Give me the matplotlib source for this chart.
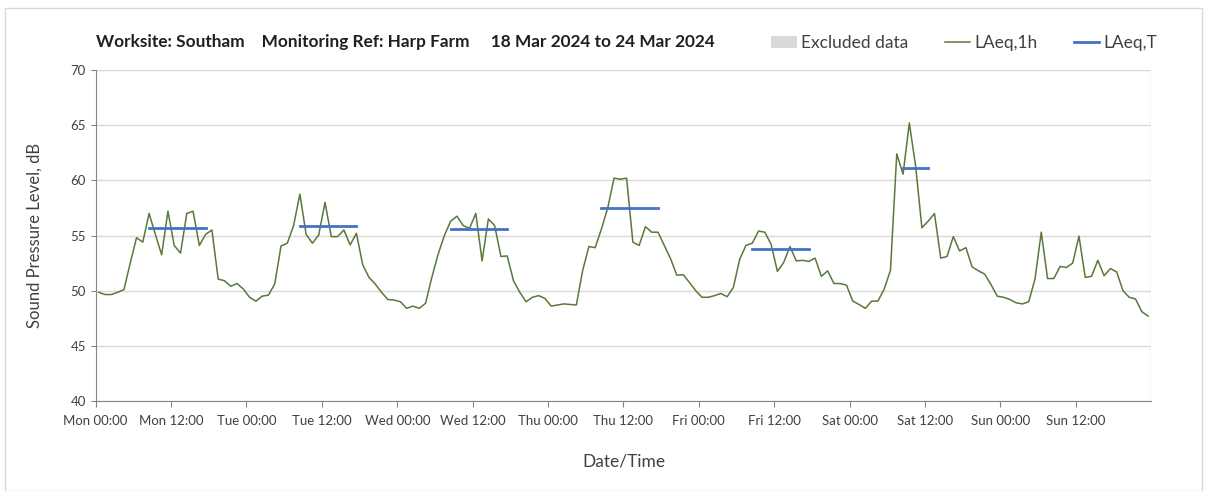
import matplotlib.pyplot as plt
import numpy as np
from matplotlib.patches import Patch, Rectangle
from matplotlib.lines import Line2D

plt.rcParams["font.family"] = ["Lato", "DejaVu Sans"]

# hourly LAeq,1h per day, Mon..Sun (dB)
mon = [49.85, 49.65, 49.65, 49.85, 50.1, 52.5, 54.8, 54.4, 57.0, 55.1, 53.25, 57.2,
       54.1, 53.4, 57.0, 57.2, 54.1, 55.1, 55.5, 51.05, 50.9, 50.4, 50.65, 50.15]
tue = [49.4, 49.05, 49.5, 49.6, 50.6, 54.05, 54.3, 55.9, 58.75, 55.1, 54.3, 55.05,
       58.0, 54.9, 54.9, 55.5, 54.15, 55.2, 52.35, 51.2, 50.6, 49.85, 49.2, 49.15]
wed = [49.0, 48.4, 48.6, 48.4, 48.85, 51.2, 53.3, 55.0, 56.3, 56.75, 55.9, 55.65,
       57.0, 52.7, 56.5, 55.9, 53.1, 53.15, 50.9, 49.85, 49.0, 49.4, 49.55, 49.3]
thu = [48.6, 48.7, 48.8, 48.75, 48.7, 51.8, 54.0, 53.9, 55.6, 57.5, 60.2, 60.1,
       60.2, 54.4, 54.1, 55.8, 55.3, 55.3, 54.1, 52.9, 51.4, 51.45, 50.75, 50.0]
fri = [49.4, 49.4, 49.55, 49.75, 49.45, 50.3, 52.85, 54.1, 54.3, 55.4, 55.3, 54.2,
       51.75, 52.55, 54.0, 52.7, 52.75, 52.65, 52.95, 51.3, 51.8, 50.65, 50.65, 50.5]
sat = [49.05, 48.75, 48.4, 49.05, 49.05, 50.15, 51.85, 62.4, 60.55, 65.2, 61.3, 55.7,
       56.3, 57.0, 52.95, 53.1, 54.9, 53.6, 53.9, 52.15, 51.8, 51.5, 50.55, 49.5]
sun = [49.4, 49.2, 48.9, 48.8, 49.0, 51.05, 55.3, 51.1, 51.1, 52.2, 52.1, 52.5,
       54.95, 51.2, 51.3, 52.75, 51.35, 52.0, 51.7, 50.0, 49.4, 49.25, 48.1, 47.7]

# LAeq,T per day: (day index, start hour, end hour, level)
period_day = [0, 1, 2, 3, 4, 5]
period_start = [8, 8, 8, 8, 8, 8]
period_end = [18, 18, 18, 18, 18, 13]
period_level = [55.65, 55.9, 55.6, 57.5, 53.75, 61.15]

day_names = ["Mon", "Tue", "Wed", "Thu", "Fri", "Sat", "Sun"]

laeq_1h = np.array(mon + tue + wed + thu + fri + sat + sun)
hours = np.arange(len(laeq_1h)) + 0.5

green = "#58793a"
blue = "#4472c4"
grid_c = "#d9d9d9"

fig = plt.figure(figsize=(12.08, 4.91), dpi=100)
fig.patches.append(Rectangle((0.004, 0.0), 0.991, 0.984, transform=fig.transFigure,
                             fill=False, edgecolor="#d9d9d9", linewidth=1))
ax = fig.add_axes([0.0792, 0.1833, 0.8738, 0.6741])

ax.plot(hours, laeq_1h, color=green, linewidth=1.1, zorder=3)
for d, s, e, lv in zip(period_day, period_start, period_end, period_level):
    ax.plot([d * 24 + s + 0.5, d * 24 + e - 0.5], [lv, lv], color=blue,
            linewidth=2, zorder=4)

ax.set_xlim(0, 168)
ax.set_ylim(40, 70)
ax.set_yticks(np.arange(40, 71, 5))
ax.set_xticks(np.arange(0, 168, 12))
ax.set_xticklabels([f"{day_names[i // 2]} {'00:00' if i % 2 == 0 else '12:00'}"
                    for i in range(14)])
ax.set_xticks(np.arange(0, 169, 24), minor=True)
ax.grid(axis="y", color=grid_c, linewidth=1)
ax.grid(axis="x", which="minor", color=grid_c, linewidth=1)
ax.set_axisbelow(True)

for s in ["top", "right"]:
    ax.spines[s].set_visible(False)
for s in ["left", "bottom"]:
    ax.spines[s].set_color("#868686")
ax.tick_params(axis="both", which="both", direction="out", color="#868686",
               labelsize=9.5, labelcolor="#404040")
ax.tick_params(axis="x", which="minor", length=0)
ax.tick_params(axis="x", pad=6, length=4)

ax.set_ylabel("Sound Pressure Level, dB", fontsize=12, color="#404040", labelpad=20)
ax.set_xlabel("Date/Time", fontsize=12.5, color="#404040", labelpad=19)

fig.text(0.0795, 0.915, "Worksite: Southam    Monitoring Ref: Harp Farm     18 Mar 2024 to 24 Mar 2024",
         fontsize=12.4, fontweight="bold", color="#202020", va="center")

handles = [Patch(facecolor="#d9d9d9", edgecolor="none"),
           Line2D([], [], color=green, linewidth=1.1),
           Line2D([], [], color=blue, linewidth=2)]
fig.legend(handles, ["Excluded data", "LAeq,1h", "LAeq,T"], ncol=3, frameon=False,
           loc="center right", bbox_to_anchor=(0.968, 0.912), fontsize=12.5,
           handlelength=1.45, handletextpad=0.25, columnspacing=2.1,
           labelcolor="#404040", borderpad=0.2)

fig.savefig("out.png", dpi=100)
